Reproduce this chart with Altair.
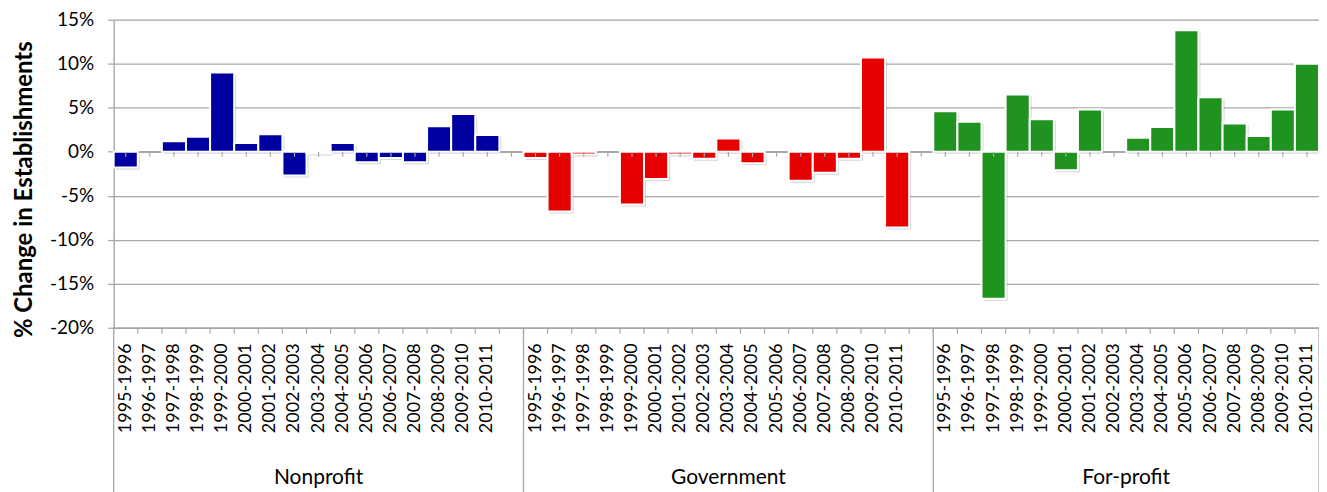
import altair as alt
import pandas as pd

years = ["1995-1996", "1996-1997", "1997-1998", "1998-1999", "1999-2000", "2000-2001",
         "2001-2002", "2002-2003", "2003-2004", "2004-2005", "2005-2006", "2006-2007",
         "2007-2008", "2008-2009", "2009-2010", "2010-2011"]
groups = ["Nonprofit", "Government", "For-profit"]
group_codes = ["N", "G", "F"]
nonprofit = [-1.8, None, 1.2, 1.7, 9.0, 1.0, 2.0, -2.7, -0.2, 1.0, -1.2, -0.7, -1.2, 2.9, 4.3, 1.9]
government = [-0.7, -6.8, -0.3, None, -6.0, -3.1, -0.3, -0.8, 1.5, -1.3, None, -3.3, -2.4, -0.8, 10.7, -8.6]
forprofit = [4.6, 3.4, -16.7, 6.5, 3.7, -2.1, 4.8, None, 1.6, 2.8, 13.8, 6.2, 3.2, 1.8, 4.8, 10.0]
colors = ["#0000A0", "#E60000", "#1F921F"]
y_ticks = [-20, -15, -10, -5, 0, 5, 10, 15]

W, H = 1209, 309
FONT = "Lato"
GRID = "#A8A8A8"

series = [nonprofit, government, forprofit]
rows = []
keys = []
for gi, (g, code, vals) in enumerate(zip(groups, group_codes, series)):
    for y, v in zip(years, vals):
        k = code + y
        keys.append(k)
        rows.append({"key": k, "group": g, "year": y, "value": v})
    if gi < 2:
        keys.append("S%d" % (gi + 1))
df = pd.DataFrame(rows)
bars_df = df.dropna(subset=["value"])

xscale = alt.Scale(domain=keys, paddingInner=0, paddingOuter=0)
yscale = alt.Scale(domain=[-20, 15], nice=False, zero=True)

xaxis = alt.Axis(labelAngle=-90, labelAlign="right", labelBaseline="middle",
                 labelExpr="length(datum.value) < 4 ? '' : slice(datum.value, 1)",
                 labelFont=FONT, labelFontSize=18, labelColor="#000000",
                 labelPadding=15, ticks=False, domainColor=GRID, domainWidth=1.3,
                 labelOverlap=False, grid=False)
yaxis = alt.Axis(values=y_ticks, labelExpr="datum.value + '%'",
                 labelFont=FONT, labelFontSize=19, labelColor="#000000",
                 labelPadding=14, tickSize=6, tickColor=GRID, tickWidth=1.3,
                 domainColor=GRID, domainWidth=1.3,
                 grid=True, gridColor=GRID, gridWidth=1.3,
                 titleFont=FONT, titleFontSize=24, titleFontWeight="bold",
                 titleColor="#000000", titleX=-77, titleY=170)
YTITLE = "% Change in Establishments"

color = alt.Color("group:N", scale=alt.Scale(domain=groups, range=colors), legend=None)

shadow = alt.Chart(bars_df).mark_bar(color="#000000", opacity=0.16, xOffset=2, yOffset=2).encode(
    x=alt.X("key:N", scale=xscale, axis=xaxis, title=None),
    y=alt.Y("value:Q", scale=yscale, axis=yaxis, title=YTITLE),
)

bars = alt.Chart(bars_df).mark_bar(stroke="white", strokeWidth=2).encode(
    x=alt.X("key:N", scale=xscale, axis=xaxis, title=None),
    y=alt.Y("value:Q", scale=yscale, axis=yaxis, title=YTITLE),
    color=color,
)

zero_df = pd.DataFrame({"key": keys})
zero_line = alt.Chart(zero_df).mark_rule(color=GRID, strokeWidth=1.3).encode(
    y=alt.datum(0)
)
zero_ticks = alt.Chart(zero_df).mark_rule(color=GRID, strokeWidth=1.2).encode(
    x=alt.X("key:N", scale=xscale, title=None),
    y=alt.datum(0), y2=alt.datum(-0.57),
)
bottom_ticks = alt.Chart(zero_df).mark_rule(color=GRID, strokeWidth=1.2).encode(
    x=alt.X("key:N", scale=xscale, title=None, bandPosition=0),
    y=alt.value(H), y2=alt.value(H + 6),
)

left_edge = alt.Chart(pd.DataFrame({"key": [keys[0]]})).mark_rule(color=GRID, strokeWidth=1.3).encode(
    x=alt.X("key:N", scale=xscale, title=None, bandPosition=0),
    y=alt.value(H), y2=alt.value(H + 185),
)
right_edges = alt.Chart(pd.DataFrame({"key": ["S1", "S2", keys[-1]]})).mark_rule(
    color=GRID, strokeWidth=1.3).encode(
    x=alt.X("key:N", scale=xscale, title=None, bandPosition=1),
    y=alt.value(H), y2=alt.value(H + 185),
)

lab_df = pd.DataFrame({"key": ["N2003-2004", "G2003-2004"], "group": groups[:2]})
lab_df2 = pd.DataFrame({"key": ["F2002-2003"], "group": groups[2:]})
group_labels = alt.Chart(lab_df).mark_text(font=FONT, fontSize=21, color="#000000",
                                           baseline="alphabetic").encode(
    x=alt.X("key:N", scale=xscale, title=None, bandPosition=0.5),
    y=alt.value(H + 157),
    text="group:N",
)
group_labels2 = alt.Chart(lab_df2).mark_text(font=FONT, fontSize=21, color="#000000",
                                             baseline="alphabetic").encode(
    x=alt.X("key:N", scale=xscale, title=None, bandPosition=1),
    y=alt.value(H + 157),
    text="group:N",
)

chart = alt.layer(shadow, zero_line, bars, zero_ticks, bottom_ticks, left_edge, right_edges,
                  group_labels, group_labels2).properties(
    width=W, height=H,
    autosize=alt.AutoSizeParams(type="none"),
    padding={"left": 106, "top": 11, "right": 0, "bottom": 168},
).configure_view(stroke=None).configure(background="white")

chart.save("out.html", embed_options={"renderer": "svg", "actions": False})
